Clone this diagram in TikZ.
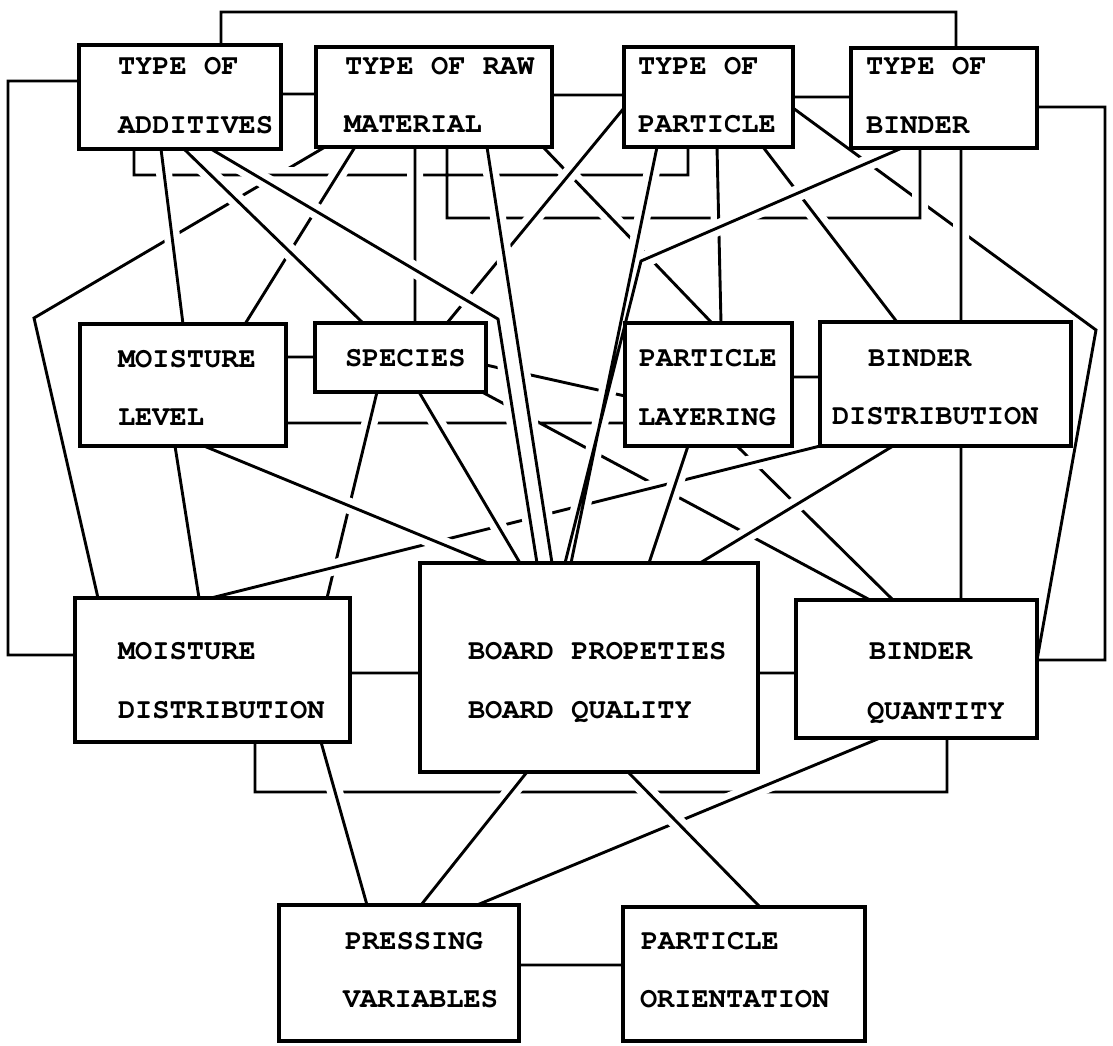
\documentclass[tikz,border=0pt]{standalone}
\usepackage{fontspec}
\newfontfamily\boxfont{texgyrecursor-bold.otf}
\usetikzlibrary{calc}
\pgfdeclarelayer{lines}
\pgfsetlayers{lines,main}
\tikzset{
  box/.style={draw, line width=3.4pt, fill=white, inner sep=0pt, outer sep=0pt, anchor=north west},
  txt/.style={inner sep=0pt, outer sep=0pt, anchor=base west, font=\boxfont\fontsize{28.7pt}{34pt}\selectfont},
  ln/.style={draw=black, line width=2.9pt, line join=miter},
  halo/.style={draw=white, line width=16pt}
}
\newcommand{\halolayer}[1]{\path[halo] #1; \path[ln] #1;}
\begin{document}
\begin{tikzpicture}[x=1pt,y=-1pt]
\useasboundingbox (0,0) rectangle (1113,1045);
% boxes
\node[box, minimum width=202pt, minimum height=104pt] (add) at (79,45) {};
\node[box, minimum width=236pt, minimum height=100pt] (raw) at (316,47) {};
\node[box, minimum width=169pt, minimum height=100pt] (part) at (624,47) {};
\node[box, minimum width=186pt, minimum height=100pt] (bind) at (851,48) {};
\node[box, minimum width=206pt, minimum height=122pt] (ml) at (80,324) {};
\node[box, minimum width=171pt, minimum height=69pt] (sp) at (315,323) {};
\node[box, minimum width=167pt, minimum height=123pt] (pl) at (625,323) {};
\node[box, minimum width=251pt, minimum height=124pt] (bd) at (820,322) {};
\node[box, minimum width=275pt, minimum height=144pt] (md) at (75,598) {};
\node[box, minimum width=338pt, minimum height=209pt] (brd) at (420,563) {};
\node[box, minimum width=241pt, minimum height=138pt] (bq) at (796,600) {};
\node[box, minimum width=240pt, minimum height=136pt] (pv) at (279,905) {};
\node[box, minimum width=242pt, minimum height=134pt] (po) at (623,907) {};
% texts
\node[txt] (add1) at (118,74) {TYPE OF};
\node[txt] (add2) at (118,133) {ADDITIVES};
\node[txt] (raw1) at (345,74) {TYPE OF RAW};
\node[txt] (raw2) at (344,132) {MATERIAL};
\node[txt] (part1) at (638,74) {TYPE OF};
\node[txt] (part2) at (638,132) {PARTICLE};
\node[txt] (bind1) at (866,74) {TYPE OF};
\node[txt] (bind2) at (866,133) {BINDER};
\node[txt] (ml1) at (118,367) {MOISTURE};
\node[txt] (ml2) at (118,425) {LEVEL};
\node[txt] (sp1) at (345,366) {SPECIES};
\node[txt] (pl1) at (639,366) {PARTICLE};
\node[txt] (pl2) at (638,425) {LAYERING};
\node[txt] (bd1) at (868,366) {BINDER};
\node[txt] (bd2) at (832,424) {DISTRIBUTION};
\node[txt] (md1) at (118,659) {MOISTURE};
\node[txt] (md2) at (118,718) {DISTRIBUTION};
\node[txt] (brd1) at (468,659) {BOARD PROPETIES};
\node[txt] (brd2) at (468,718) {BOARD QUALITY};
\node[txt] (bq1) at (869,659) {BINDER};
\node[txt] (bq2) at (867,719) {QUANTITY};
\node[txt] (pv1) at (345,949) {PRESSING};
\node[txt] (pv2) at (343,1007) {VARIABLES};
\node[txt] (po1) at (641,949) {PARTICLE};
\node[txt] (po2) at (640,1007) {ORIENTATION};

\begin{pgfonlayer}{lines}
\fill[white] (0,0) rectangle (1113,1045);
\coordinate (k3) at (498,319);
\coordinate (k4) at (34,318);
\coordinate (k13) at (1096,330);
\coordinate (k14) at (641,261);
% layer 0 (broken at every crossing)
\halolayer{
  ($(part.north east)+(0,61)$) -- (k13) -- ($(bq.north east)+(0,60)$)
  ($(ml.north east)+(0,99)$) -- ($(pl.north west)+(0,100)$)
  ($(md.south west)+(180,0)$) -- ++(0,50) -| ($(bq.south west)+(151,0)$)
  ($(sp.south east)+(-4,0)$) -- ($(bq.north west)+(74,0)$)
  ($(sp.north east)+(0,42)$) -- ($(pl.north west)+(0,73)$)
  ($(raw.south west)+(9,0)$) -- (k4) -- ($(md.north west)+(23,0)$)
}
% layer 1
\halolayer{
  ($(add.south west)+(55,0)$) -- ++(0,26) -| ($(part.south west)+(64,0)$)
  ($(raw.south west)+(131,0)$) -- ++(0,71) -| ($(bind.south west)+(69,0)$)
  ($(sp.south west)+(62,0)$) -- ($(md.north west)+(252,0)$)
  ($(pl.south west)+(112,0)$) -- ($(bq.north west)+(97,0)$)
}
% layer 2
\halolayer{
  ($(raw.south west)+(39,0)$) -- ($(ml.north west)+(165,0)$)
  ($(raw.south west)+(99,0)$) -- ($(sp.north west)+(100,0)$)
  ($(raw.south west)+(227,0)$) -- ($(pl.north west)+(87,0)$)
  ($(part.south west)+(93,0)$) -- ($(pl.north west)+(96,0)$)
  ($(part.south west)+(139,0)$) -- ($(bd.north west)+(77,0)$)
  (bd.south west) -- ($(md.north west)+(136,0)$)
  ($(bq.south west)+(84,0)$) -- ($(pv.north west)+(198,0)$)
}
% layer 3
\halolayer{
  ($(part.north west)+(0,61)$) -- ($(sp.north west)+(132,0)$)
}
% layer 4 (on top)
\halolayer{
  ($(add.south west)+(82,0)$) -- ($(ml.north west)+(103,0)$)
  ($(add.south west)+(105,0)$) -- ($(sp.north west)+(48,0)$)
  ($(add.south west)+(132,0)$) -- (k3) -- ($(brd.north west)+(117,0)$)
  ($(raw.south west)+(171,0)$) -- ($(brd.north west)+(132,0)$)
  ($(part.south west)+(33,0)$) -- ($(brd.north west)+(151,0)$)
  ($(bind.south west)+(51,0)$) -- (k14) -- ($(brd.north west)+(145,0)$)
  ($(bind.south west)+(110,0)$) -- ($(bd.north west)+(141,0)$)
  ($(ml.south west)+(124,0)$) -- ($(brd.north west)+(68,0)$)
  ($(sp.south west)+(104,0)$) -- ($(brd.north west)+(100,0)$)
  ($(pl.south west)+(63,0)$) -- ($(brd.north west)+(229,0)$)
  ($(bd.south west)+(73,0)$) -- ($(brd.north west)+(280,0)$)
  ($(md.south west)+(246,0)$) -- ($(pv.north west)+(88,0)$)
  ($(brd.south west)+(107,0)$) -- ($(pv.north west)+(142,0)$)
  ($(brd.south west)+(208,0)$) -- ($(po.north west)+(137,0)$)
}
% plain connectors (no crossings)
\path[ln]
  ($(add.north east)+(0,49)$) -- ($(raw.north west)+(0,47)$)
  ($(raw.north east)+(0,48)$) -- ($(part.north west)+(0,48)$)
  ($(part.north east)+(0,50)$) -- ($(bind.north west)+(0,49)$)
  ($(add.north west)+(142,0)$) -- ++(0,-33) -| ($(bind.north west)+(105,0)$)
  ($(add.north west)+(0,36)$) -- ++(-71,0) |- ($(md.north west)+(0,57)$)
  ($(bind.north east)+(0,59)$) -- ++(68,0) |- ($(bq.north east)+(0,60)$)
  ($(ml.north east)+(0,33)$) -- ($(sp.north west)+(0,34)$)
  ($(pl.north east)+(0,54)$) -- ($(bd.north west)+(0,55)$)
  ($(md.north east)+(0,75)$) -- ($(brd.north west)+(0,110)$)
  ($(brd.north east)+(0,110)$) -- ($(bq.north west)+(0,73)$)
  ($(pv.north east)+(0,60)$) -- ($(po.north west)+(0,58)$)
  ($(ml.south west)+(95,0)$) -- ($(md.north west)+(124,0)$)
  ($(bd.south west)+(141,0)$) -- ($(bq.north west)+(165,0)$);
\end{pgfonlayer}
\end{tikzpicture}
\end{document}
